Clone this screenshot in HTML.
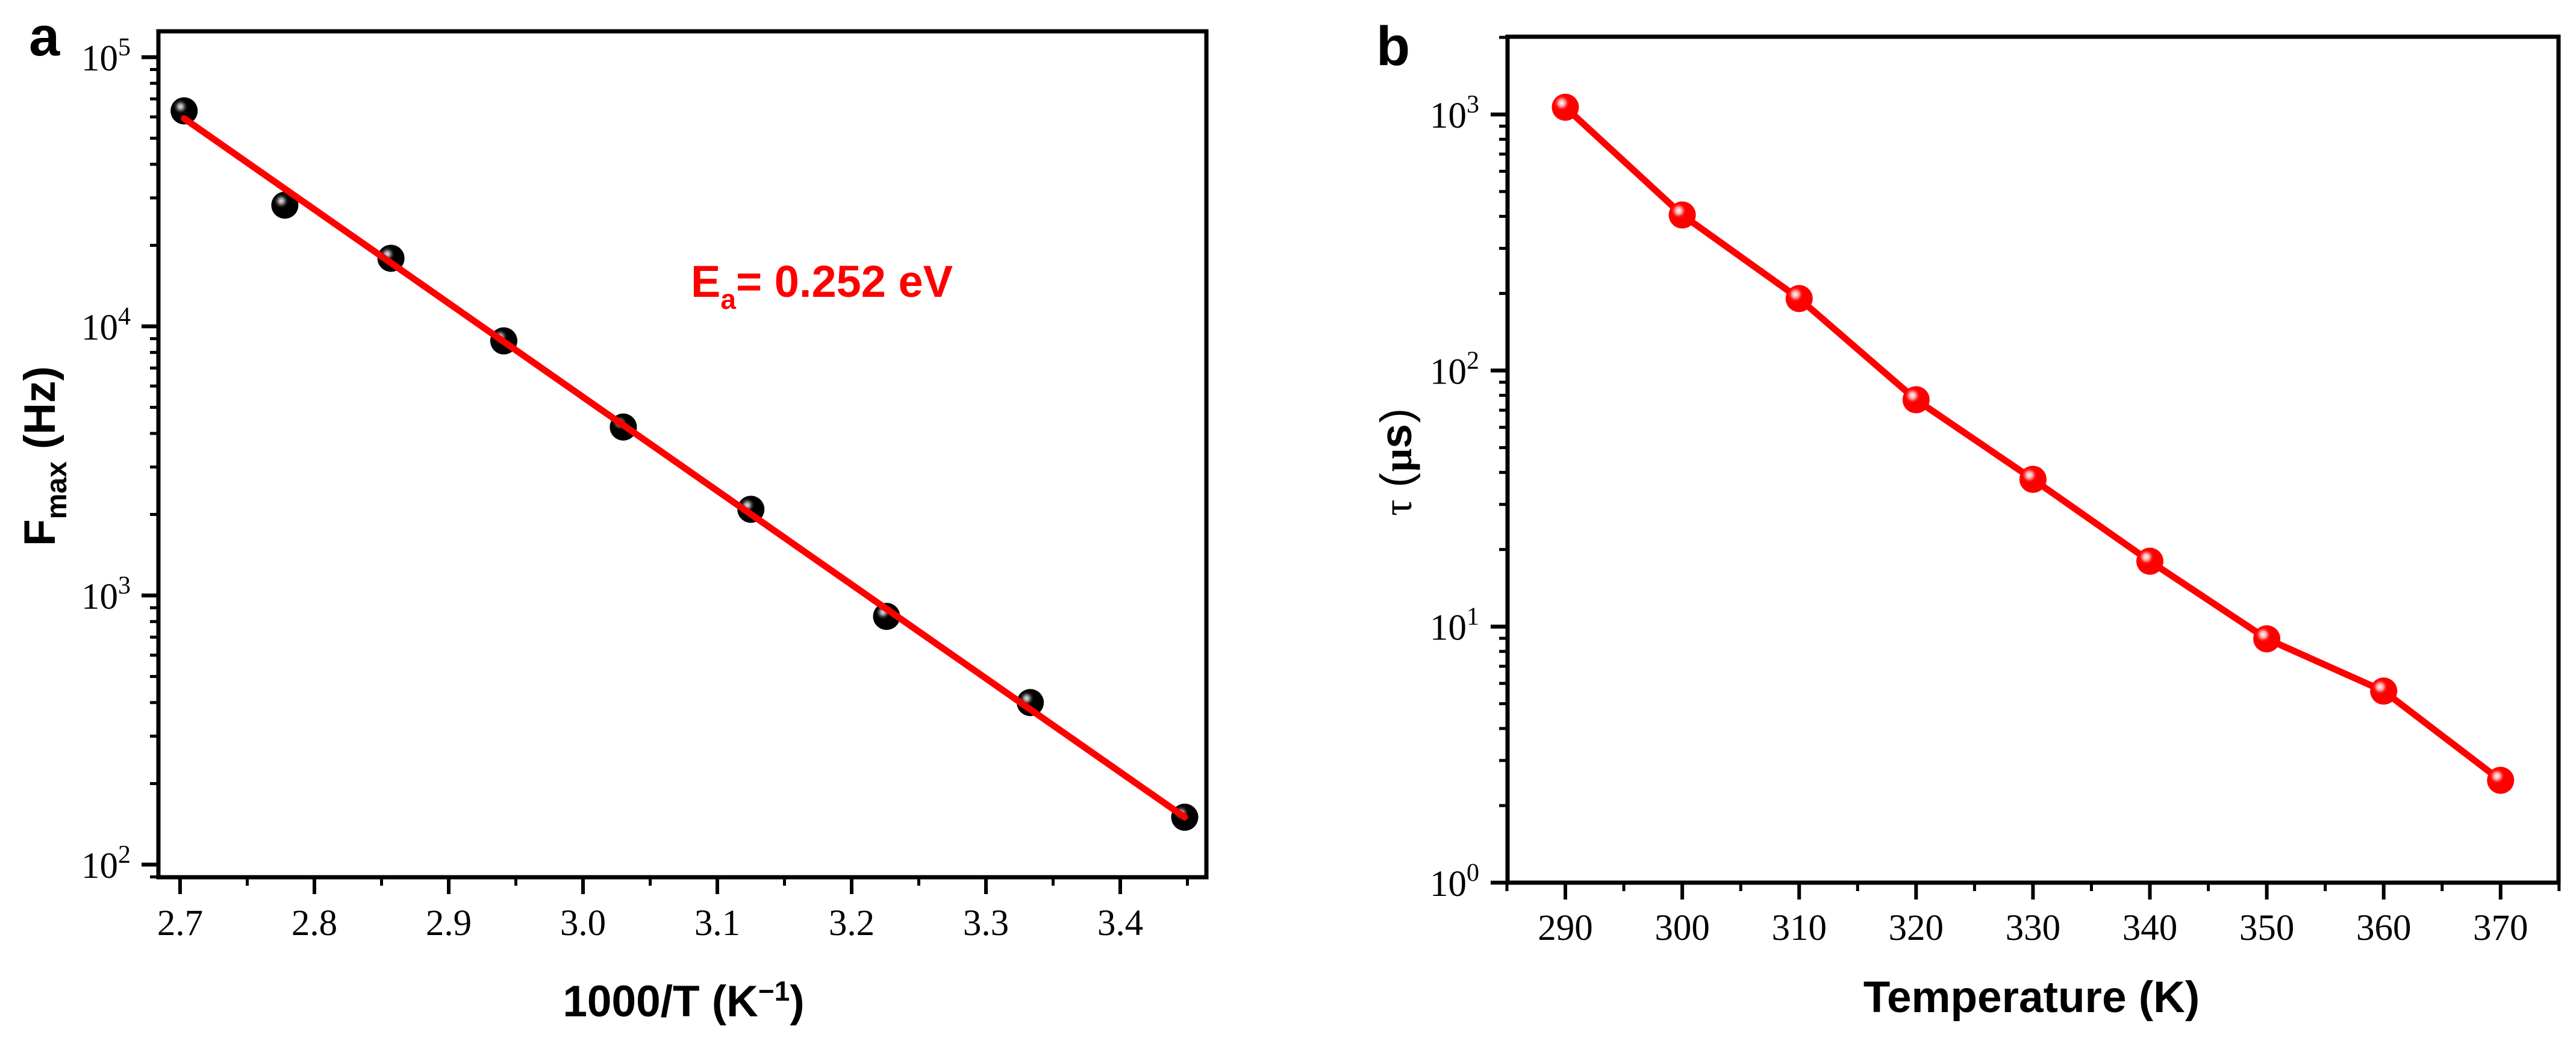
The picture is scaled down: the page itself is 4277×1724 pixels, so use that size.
<!DOCTYPE html>
<html lang="en">
<head>
<meta charset="utf-8">
<title>Fmax and relaxation time plots</title>
<style>
html,body{margin:0;padding:0;background:#fff;}
svg{display:block;}
text{fill:#000;}
.tick{font-family:"Liberation Serif",serif;font-size:61px;}
.title{font-family:"Liberation Sans",sans-serif;font-size:73px;font-weight:bold;}
.panel{font-family:"Liberation Sans",sans-serif;font-size:92px;font-weight:bold;}
</style>
</head>
<body>
<svg id="fig" xmlns="http://www.w3.org/2000/svg" width="4277" height="1724" viewBox="0 0 4277 1724">
  <defs>
    <radialGradient id="shine-k"><stop offset="0" stop-color="#fff" stop-opacity=".9"/><stop offset=".35" stop-color="#bbb" stop-opacity=".8"/><stop offset="1" stop-color="#000" stop-opacity="0"/></radialGradient>
    <radialGradient id="shine-r"><stop offset="0" stop-color="#fff" stop-opacity="1"/><stop offset=".45" stop-color="#ffb8b8" stop-opacity=".85"/><stop offset="1" stop-color="#f00" stop-opacity="0"/></radialGradient>
  </defs>
  <rect width="4277" height="1724" fill="#fff"/>
  <g id="panel-a"></g>
  <g id="panel-b"></g>

  <text class="panel" x="48" y="92">a</text>
  <text class="panel" x="2285" y="108">b</text>

  <text class="title" transform="translate(91 907) rotate(-90)">F<tspan font-size="48" dy="19">max</tspan><tspan dy="-19"> (Hz)</tspan></text>
  <text class="title" x="1135" y="1688" text-anchor="middle">1000/T (K<tspan font-size="46" dy="-26">−1</tspan><tspan dy="26">)</tspan></text>
  <text class="title" x="1147" y="493" style="fill:#f00;font-size:74px">E<tspan font-size="46" dy="20">a</tspan><tspan dy="-20">= 0.252 eV</tspan></text>

  <text class="title" transform="translate(2343 857) rotate(-90)"><tspan font-family="Liberation Serif" font-weight="normal" font-size="68">τ</tspan><tspan dx="20" font-weight="normal">(</tspan><tspan font-family="Liberation Serif" font-size="68" dx="2">μ</tspan><tspan>s</tspan><tspan dx="2" font-weight="normal">)</tspan></text>
  <text class="title" x="3373" y="1681" text-anchor="middle">Temperature (K)</text>
</svg>
<script>
// Panel a data
const aXTicks = [2.7, 2.8, 2.9, 3.0, 3.1, 3.2, 3.3, 3.4];
const aYDecades = [2, 3, 4, 5];
const aInverseT = [2.703, 2.778, 2.857, 2.941, 3.030, 3.125, 3.226, 3.333, 3.448];
const aFmax = [63200, 28200, 17900, 8830, 4225, 2090, 836, 400, 150];
const aFitX = [2.703, 3.448];
const aFitY = [59200, 150];

// Panel b data
const bXTicks = [290, 300, 310, 320, 330, 340, 350, 360, 370];
const bYDecades = [0, 1, 2, 3];
const bTemperature = [290, 300, 310, 320, 330, 340, 350, 360, 370];
const bTau = [1067, 405, 191, 76.9, 37.6, 18.0, 8.96, 5.6, 2.51];

const NS = 'http://www.w3.org/2000/svg';
function mk(parent, tag, attrs) {
  const el = document.createElementNS(NS, tag);
  for (const k in attrs) el.setAttribute(k, attrs[k]);
  parent.appendChild(el);
  return el;
}

// Axis functions
const aX = v => 299 + (v - 2.7) * 2230;
const aY = v => 95 + (5 - Math.log10(v)) * 447;
const bX = v => 2599 + (v - 290) * 19.41;
const bY = v => 1466 - Math.log10(v) * 425.3;

function logMinors(minV, maxV) {
  const out = [];
  for (let d = -1; d <= 6; d++) {
    for (let m = 1; m <= 9; m++) {
      const v = m * Math.pow(10, d);
      if (v >= minV * 0.999 && v <= maxV * 1.001) out.push([v, m === 1]);
    }
  }
  return out;
}

function hTick(g, y, x2, major) {
  const el = mk(g, 'line', {x1: x2 - (major ? 28 : 14), x2: x2, y1: y, y2: y, stroke: '#000', 'stroke-width': major ? 6.5 : 5});
  
  
}
function vTick(g, x, y1, major) {
  const el = mk(g, 'line', {x1: x, x2: x, y1: y1, y2: y1 + (major ? 28 : 14), stroke: '#000', 'stroke-width': major ? 6 : 5});
  
  
}
function yLabel(g, x, y, exp) {
  const t = mk(g, 'text', {class: 'tick', x: x, y: y + 22});
  
  
  t.appendChild(document.createTextNode('10'));
  const s = mk(t, 'tspan', {'font-size': 42, dy: -25});
  s.textContent = exp;
}
function xLabel(g, x, y, label) {
  const t = mk(g, 'text', {class: 'tick', x: x, y: y, 'text-anchor': 'middle'});
  
  
  t.textContent = label;
}
function frame(g, x1, y1, x2, y2) {
  const r = mk(g, 'rect', {x: x1, y: y1, width: x2 - x1, height: y2 - y1, fill: 'none', stroke: '#000', 'stroke-width': 7});
  
  
}
function marker(g, cx, cy, fill, shine) {
  const c = mk(g, 'circle', {cx: cx, cy: cy, r: 22.5, fill: fill});
  
  
  const h = mk(g, 'circle', {cx: cx - 6, cy: cy - 7, r: 13, fill: shine});
  
  
}

// ---- Panel a ----
const gA = document.getElementById('panel-a');
frame(gA, 263, 52, 2003, 1457);
logMinors(90, 125000).forEach(([v, isMajor]) => hTick(gA, aY(v), 263, isMajor));
aYDecades.forEach(d => yLabel(gA, 135, aY(Math.pow(10, d)), d));
aXTicks.forEach(v => {
  vTick(gA, aX(v), 1457, true);
  vTick(gA, aX(v + 0.05), 1457, false);
  xLabel(gA, aX(v), 1553, v.toFixed(1));
});
aInverseT.forEach((v, i) => marker(gA, aX(v), aY(aFmax[i]), '#000', 'url(#shine-k)'));
const fit = mk(gA, 'polyline', {
  points: aFitX.map((v, i) => aX(v) + ',' + aY(aFitY[i])).join(' '),
  fill: 'none', stroke: '#f00', 'stroke-width': 11, 'stroke-linecap': 'round'
});



// ---- Panel b ----
const gB = document.getElementById('panel-b');
frame(gB, 2503, 61, 4248, 1466);
logMinors(1, 2000).forEach(([v, isMajor]) => hTick(gB, bY(v), 2503, isMajor));
bYDecades.forEach(d => yLabel(gB, 2374, bY(Math.pow(10, d)), d));
bXTicks.forEach(v => {
  vTick(gB, bX(v), 1466, true);
  vTick(gB, bX(v + 5), 1466, false);
  xLabel(gB, bX(v), 1561, String(v));
});
vTick(gB, bX(285), 1466, false);
const bLine = mk(gB, 'polyline', {
  points: bTemperature.map((v, i) => bX(v) + ',' + bY(bTau[i])).join(' '),
  fill: 'none', stroke: '#f00', 'stroke-width': 11, 'stroke-linejoin': 'round'
});


bTemperature.forEach((v, i) => marker(gB, bX(v), bY(bTau[i]), '#f00', 'url(#shine-r)'));
</script>
</body>
</html>
